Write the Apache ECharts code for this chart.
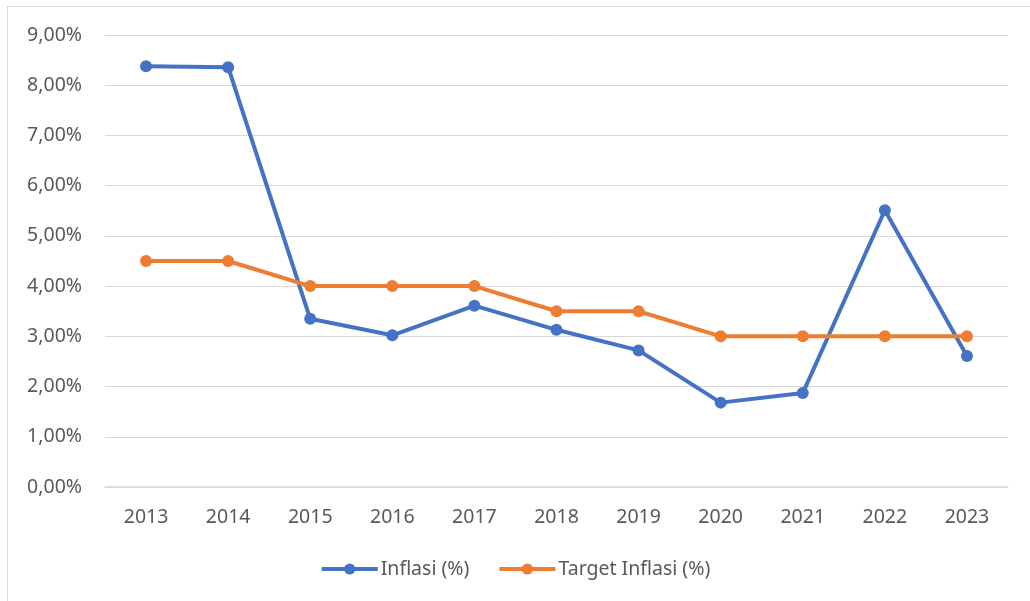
<!DOCTYPE html>
<html>
<head>
<meta charset="utf-8">
<script src="https://cdn.jsdelivr.net/npm/echarts@6/dist/echarts.min.js"></script>
<style>
  body { margin: 0; background: #fff; }
  .frame {
    position: absolute; left: 7px; top: 6px;
    width: 1040px; height: 620px;
    border: 1px solid #d9d9d9; box-sizing: border-box;
  }
  #chart { position: absolute; left: 0; top: 0; width: 1030px; height: 601px; }
</style>
</head>
<body>
<div class="frame"></div>
<div id="chart"></div>
<script>
// tahun
const years = ['2013', '2014', '2015', '2016', '2017', '2018', '2019', '2020', '2021', '2022', '2023'];
// inflasi aktual (%)
const inflasi = [8.38, 8.36, 3.35, 3.02, 3.61, 3.13, 2.72, 1.68, 1.87, 5.51, 2.61];
// target inflasi (%)
const targetInflasi = [4.5, 4.5, 4.0, 4.0, 4.0, 3.5, 3.5, 3.0, 3.0, 3.0, 3.0];

const myChart = echarts.init(document.getElementById('chart'));

const txt = { color: '#595959', fontSize: 19.5, fontFamily: 'Noto Sans' };

const option = {
  animation: false,
  color: ['#4472C4', '#ED7D31'],
  grid: { left: 105, right: 22, top: 35, bottom: 114 },
  legend: {
    top: 554,
    left: 'center',
    itemWidth: 56,
    itemHeight: 14,
    itemGap: 28,
    textStyle: Object.assign({}, txt, { padding: [0, 0, 0, -2] }),
    lineStyle: { width: 4 },
    data: ['Inflasi (%)', 'Target Inflasi (%)']
  },
  xAxis: {
    type: 'category',
    data: years,
    axisLine: { lineStyle: { color: '#d9d9d9', width: 1.5 } },
    axisTick: { show: false },
    axisLabel: Object.assign({ margin: 20 }, txt)
  },
  yAxis: {
    type: 'value',
    min: 0,
    max: 9,
    interval: 1,
    axisLine: { show: false },
    axisTick: { show: false },
    splitLine: { lineStyle: { color: '#d9d9d9', width: 1 } },
    axisLabel: Object.assign({
      margin: 23,
      formatter: v => v.toFixed(2).replace('.', ',') + '%'
    }, txt)
  },
  series: [
    {
      name: 'Inflasi (%)',
      type: 'line',
      data: inflasi,
      symbol: 'circle',
      symbolSize: 12,
      lineStyle: { width: 4 }
    },
    {
      name: 'Target Inflasi (%)',
      type: 'line',
      data: targetInflasi,
      symbol: 'circle',
      symbolSize: 12,
      lineStyle: { width: 4 }
    }
  ]
};

myChart.setOption(option);
</script>
</body>
</html>
